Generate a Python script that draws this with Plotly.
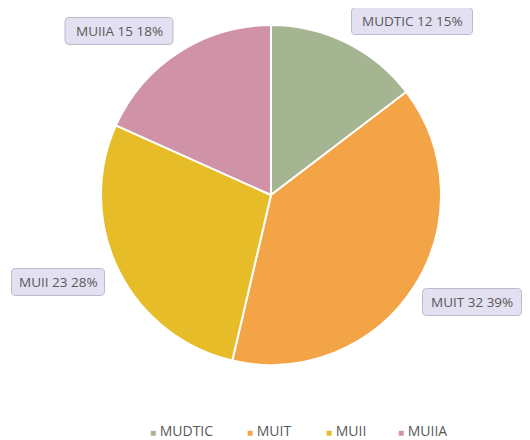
import plotly.graph_objects as go

categories = ["MUDTIC", "MUIT", "MUII", "MUIIA"]
values = [12, 32, 23, 15]
colors = ["#A5B592", "#F3A447", "#E6BC28", "#D092A6"]

W, H = 530, 440
# label box centres (px) and widths, layout only
label_pos = [(404, 13, 121), (464, 294, 99), (50, 274, 93), (111, 23, 108)]
box_h = 27
# legend item left edges (px)
legend_x = [140, 237, 316, 388]
legend_y = 422

total = sum(values)
fig = go.Figure(go.Pie(
    labels=categories, values=values, sort=False, direction="clockwise",
    rotation=0, marker=dict(colors=colors, line=dict(color="white", width=2)),
    textinfo="none", hoverinfo="label+value+percent",
    domain=dict(x=[93 / W, 433 / W], y=[1 - 357 / H, 1 - 17 / H]),
))


def rounded_rect(cx, cy, w, h, r):
    x0, x1 = cx - w / 2, cx + w / 2
    y0, y1 = cy - h / 2, cy + h / 2
    P = lambda x, y: f"{x / W:.5f},{1 - y / H:.5f}"
    return (f"M {P(x0 + r, y0)} L {P(x1 - r, y0)} Q {P(x1, y0)} {P(x1, y0 + r)} "
            f"L {P(x1, y1 - r)} Q {P(x1, y1)} {P(x1 - r, y1)} "
            f"L {P(x0 + r, y1)} Q {P(x0, y1)} {P(x0, y1 - r)} "
            f"L {P(x0, y0 + r)} Q {P(x0, y0)} {P(x0 + r, y0)} Z")


for c, v, (x, y, w) in zip(categories, values, label_pos):
    pct = round(100 * v / total)
    fig.add_shape(type="path", xref="paper", yref="paper",
                  path=rounded_rect(x, y, w, box_h, 4),
                  fillcolor="#E3E0F2", line=dict(color="#BDB9CE", width=1))
    fig.add_annotation(
        x=x / W, y=1 - y / H, xref="paper", yref="paper",
        xanchor="center", yanchor="middle",
        text=f"{c} {v} {pct}%", showarrow=False,
        font=dict(family="Open Sans", size=13.5, color="#595959"),
    )

for c, col, lx in zip(categories, colors, legend_x):
    fig.add_annotation(
        x=lx / W, y=1 - legend_y / H, xref="paper", yref="paper",
        xanchor="left", yanchor="middle", showarrow=False,
        text=f"<span style='color:{col};font-size:10px'>■</span> {c}",
        font=dict(family="Open Sans", size=14, color="#595959"),
    )

fig.update_layout(
    width=W, height=H, margin=dict(l=0, r=0, t=0, b=0),
    paper_bgcolor="white", plot_bgcolor="white",
    showlegend=False,
)

fig.write_html("out.html")
